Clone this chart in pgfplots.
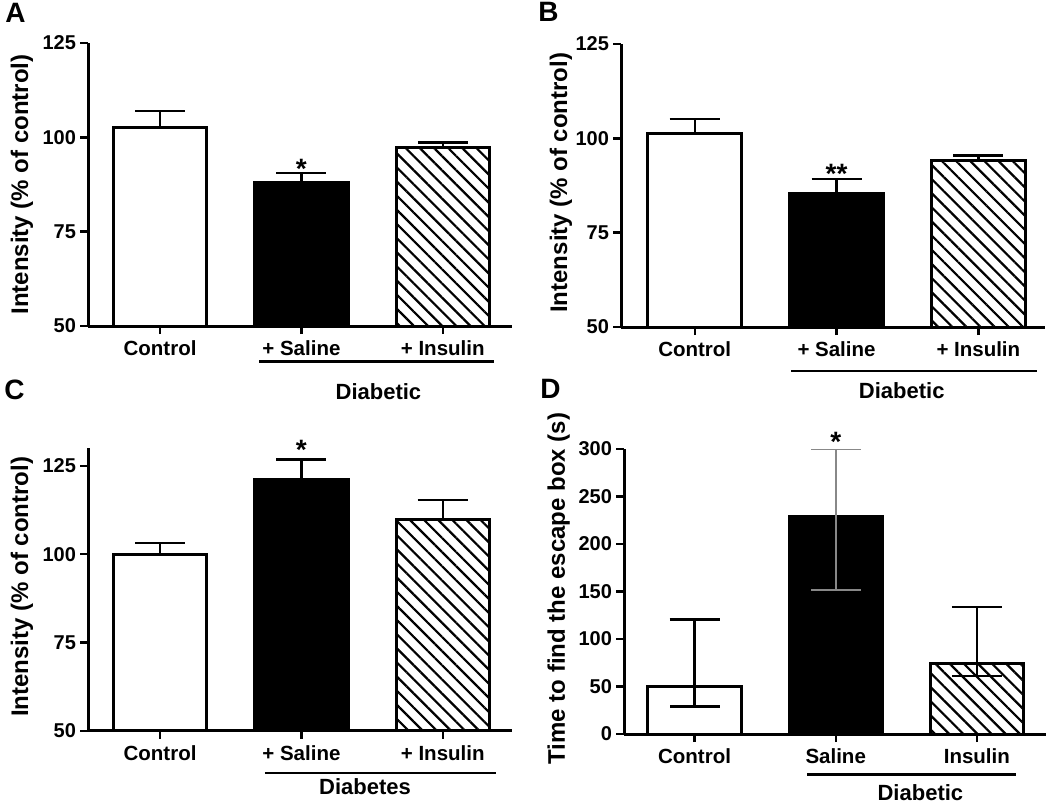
\documentclass[border=0pt]{standalone}
\usepackage{fontspec}
\setmainfont{Liberation Sans}
\usepackage{pgfplots}
\pgfplotsset{compat=1.18}
\usetikzlibrary{patterns.meta}

\pgfplotsset{
  panel/.style={
    scale only axis,
    anchor=south west,
    axis x line*=bottom, axis y line*=left,
    axis line style={line width=1.5pt, -},
    axis on top,
    tick align=outside,
    major tick length=4pt,
    every tick/.style={line width=1.2pt, black},
    xtick={0,1,2},
    /pgf/number format/assume math mode=true,
    y tick label style={font=\fontsize{10}{12}\selectfont\bfseries, xshift=1.5pt},
    x tick label style={font=\fontsize{10.25}{12}\selectfont\bfseries},
    ylabel style={font=\fontsize{12}{14}\selectfont\bfseries, anchor=base},
  },
  ebar/.style={
    error bars/y explicit,
    error bars/error bar style={line width=1.2pt, #1},
    error bars/error mark options={rotate=90, mark size=12.5pt, line width=1.2pt, #1}},
  ctrl/.style={ybar, bar shift=0pt, bar width=0.66, fill=white, draw=black, line width=1.5pt, ebar=black},
  sal/.style={ybar, bar shift=0pt, bar width=0.66, fill=black, draw=black, line width=1.5pt, ebar=black},
  ins/.style={ybar, bar shift=0pt, bar width=0.66, fill=white, draw=black, line width=1.5pt,
    postaction={pattern={Lines[angle=-45, distance=5pt, line width=1.1pt]}}, ebar=black},
}
\definecolor{errgray}{HTML}{888888}
\newcommand{\catfont}{\fontsize{11}{13}\selectfont\bfseries}
\newcommand{\starfont}{\fontsize{14}{16}\selectfont\bfseries}
\newcommand{\letterfont}{\fontsize{14}{16}\selectfont\bfseries}

\begin{document}
\begin{tikzpicture}
\useasboundingbox (0pt,0pt) rectangle (525pt,-401.5pt);

% ---------- Panel A ----------
\begin{axis}[panel, at={(44pt,-163pt)}, width=212pt, height=141.5pt,
  xmin=-0.51, xmax=2.49, ymin=50, ymax=125, ytick={50,75,100,125},
  xticklabels={Control,+ Saline,+ Insulin},
  ylabel={Intensity (\% of control)},
  ylabel style={at={(axis description cs:-0.1415,0.5)}},
  after end axis/.code={
    \draw[line width=1.3pt] (axis cs:0.70,40.6) -- (axis cs:2.36,40.6);
    \node[anchor=base, font=\catfont] at (axis cs:1.545,30.4) {Diabetic};
    \node[anchor=base, inner sep=0pt, yshift=-2.5pt, font=\starfont] at (axis cs:1,90.5) {*};
  }]
\addplot[ctrl, error bars/y dir=plus] coordinates {(0,102.5) +- (0,4.5)};
\addplot[sal, error bars/y dir=plus] coordinates {(1,87.9) +- (0,2.6)};
\addplot[ins, error bars/y dir=plus] coordinates {(2,97.3) +- (0,1.3)};
\end{axis}

% ---------- Panel B ----------
\begin{axis}[panel, at={(310.5pt,-163.5pt)}, width=212pt, height=141.5pt,
  xmin=-0.52, xmax=2.47, ymin=50, ymax=125, ytick={50,75,100,125},
  xticklabels={Control,+ Saline,+ Insulin},
  ylabel={Intensity (\% of control)},
  ylabel style={at={(axis description cs:-0.127,0.51)}},
  after end axis/.code={
    \draw[line width=1.3pt] (axis cs:0.68,38.3) -- (axis cs:2.41,38.3);
    \node[anchor=base, font=\catfont] at (axis cs:1.46,31.0) {Diabetic};
    \node[anchor=base, inner sep=0pt, yshift=-2.2pt, font=\starfont] at (axis cs:1,89.3) {**};
  }]
\addplot[ctrl, error bars/y dir=plus] coordinates {(0,101.4) +- (0,3.7)};
\addplot[sal, error bars/y dir=plus] coordinates {(1,85.3) +- (0,4.0)};
\addplot[ins, error bars/y dir=plus] coordinates {(2,94.0) +- (0,1.4)};
\end{axis}

% ---------- Panel C ----------
\begin{axis}[panel, at={(44pt,-365.35pt)}, width=212pt, height=141.2pt,
  xmin=-0.51, xmax=2.49, ymin=50, ymax=130, ytick={50,75,100,125},
  xticklabels={Control,+ Saline,+ Insulin},
  ylabel={Intensity (\% of control)},
  ylabel style={at={(axis description cs:-0.1415,0.51)}},
  after end axis/.code={
    \draw[line width=1.3pt] (axis cs:0.742,38.0) -- (axis cs:2.38,38.0);
    \node[anchor=base, font=\catfont] at (axis cs:1.45,31.9) {Diabetes};
    \node[anchor=base, inner sep=0pt, yshift=-0.1pt, font=\starfont] at (axis cs:1,126.8) {*};
  }]
\addplot[ctrl, error bars/y dir=plus] coordinates {(0,99.9) +- (0,3.3)};
\addplot[sal, error bars/y dir=plus] coordinates {(1,121.1) +- (0,5.7)};
\addplot[ins, error bars/y dir=plus] coordinates {(2,109.9) +- (0,5.4)};
\end{axis}

% ---------- Panel D ----------
\begin{axis}[panel, at={(312pt,-367pt)}, width=211pt, height=142.5pt,
  xmin=-0.50, xmax=2.49, ymin=0, ymax=300, ytick={0,50,100,150,200,250,300},
  xticklabels={Control,Saline,Insulin},
  ylabel={Time to find the escape box (s)},
  ylabel style={at={(axis description cs:-0.14,0.51)}},
  after end axis/.code={
    \draw[line width=1.3pt] (axis cs:0.80,-42.5) -- (axis cs:2.28,-42.5);
    \node[anchor=base, font=\catfont] at (axis cs:1.60,-70.3) {Diabetic};
    \node[anchor=base, inner sep=0pt, yshift=-1.35pt, font=\starfont] at (axis cs:1,300) {*};
  }]
\addplot[ctrl, error bars/y dir=both] coordinates {(0,50.3) += (0,70.1) -= (0,21.3)};
\addplot[sal, ebar=errgray, error bars/y dir=both]
  coordinates {(1,228.8) += (0,71.2) -= (0,77.2)};
\addplot[ins, error bars/y dir=both] coordinates {(2,74.4) += (0,59.5) -= (0,13.1)};
\end{axis}

% panel letters
\node[anchor=base west, inner sep=0pt, font=\letterfont] at (2.5pt,-11.5pt) {A};
\node[anchor=base west, inner sep=0pt, font=\letterfont] at (269pt,-10.5pt) {B};
\node[anchor=base west, inner sep=0pt, font=\letterfont] at (2pt,-199.5pt) {C};
\node[anchor=base west, inner sep=0pt, font=\letterfont] at (270pt,-199pt) {D};
\end{tikzpicture}
\end{document}
